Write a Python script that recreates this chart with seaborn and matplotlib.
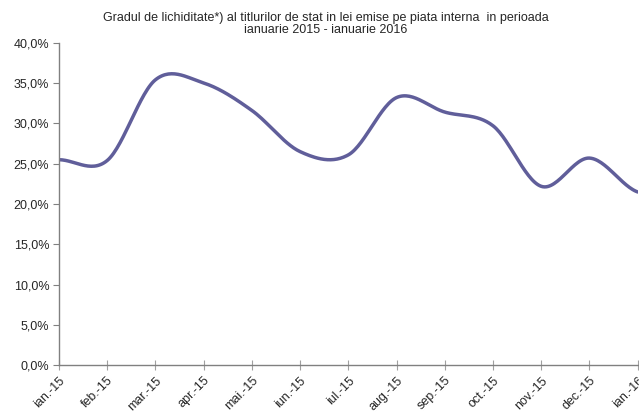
import numpy as np
import pandas as pd
import matplotlib
matplotlib.use("Agg")
import matplotlib.pyplot as plt
import seaborn as sns

months = ["ian.-15", "feb.-15", "mar.-15", "apr.-15", "mai.-15", "iun.-15", "iul.-15",
          "aug.-15", "sep.-15", "oct.-15", "nov.-15", "dec.-15", "ian.-16"]
liquidity = [25.5, 25.4, 35.4, 35.0, 31.6, 26.5, 26.1, 33.2, 31.4, 29.7, 22.2, 25.7, 21.5]
y_ticks = [0, 5, 10, 15, 20, 25, 30, 35, 40]


def smooth_curve(values, steps=30):
    # Catmull-Rom style smoothing (like Excel's "smoothed line")
    p = np.asarray(values, dtype=float)
    n = len(p)
    xs, ys = [], []
    for i in range(n - 1):
        p0 = p[i - 1] if i > 0 else p[i]
        p1, p2 = p[i], p[i + 1]
        p3 = p[i + 2] if i + 2 < n else p[i + 1]
        m1 = (p2 - p0) / 2.0
        m2 = (p3 - p1) / 2.0
        t = np.linspace(0, 1, steps, endpoint=(i == n - 2))
        h00 = 2 * t**3 - 3 * t**2 + 1
        h10 = t**3 - 2 * t**2 + t
        h01 = -2 * t**3 + 3 * t**2
        h11 = t**3 - t**2
        xs.append(i + t)
        ys.append(h00 * p1 + h10 * m1 + h01 * p2 + h11 * m2)
    return np.concatenate(xs), np.concatenate(ys)


sns.set_theme(style="white")
plt.rcParams["font.family"] = ["Liberation Sans", "DejaVu Sans"]

sx, sy = smooth_curve(liquidity)
curve = pd.DataFrame({"x": sx, "y": sy})

fig = plt.figure(figsize=(6.39, 4.12), dpi=100)
ax = fig.add_axes([0.0923, 0.1129, 0.9057, 0.7835])

sns.lineplot(data=curve, x="x", y="y", ax=ax, color="#605E9A", linewidth=2.5, sort=False)

ax.set_xlim(0, len(months) - 1)
ax.set_ylim(0, 40)
ax.set_xticks(range(len(months)))
ax.set_xticklabels(months, rotation=45, ha="right", rotation_mode="anchor", fontsize=9)
ax.set_yticks(y_ticks)
ax.set_yticklabels([f"{v:.1f}%".replace(".", ",") for v in y_ticks], fontsize=9)
ax.set_xlabel("")
ax.set_ylabel("")

for side in ["top", "right"]:
    ax.spines[side].set_visible(False)
for side in ["left", "bottom"]:
    ax.spines[side].set_color("#808080")
    ax.spines[side].set_linewidth(1.0)

ax.tick_params(axis="x", direction="inout", length=7, width=0.8, color="#A0A0A0", pad=3)
ax.tick_params(axis="y", direction="out", length=4, width=0.8, color="#808080", pad=3)
ax.tick_params(left=True, bottom=True)

fig.text(0.51, 0.972, "Gradul de lichiditate*) al titlurilor de stat in lei emise pe piata interna  in perioada\nianuarie 2015 - ianuarie 2016",
         ha="center", va="top", fontsize=9, linespacing=1.05)

fig.savefig("out.png", dpi=100)
